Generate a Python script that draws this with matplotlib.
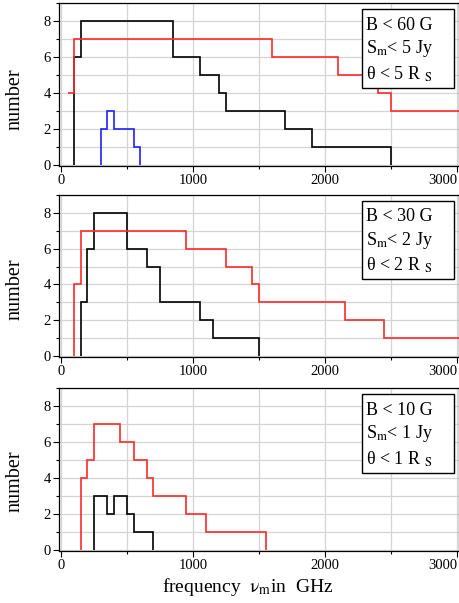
import numpy as np
import matplotlib
matplotlib.use("Agg")
import matplotlib.pyplot as plt
from matplotlib.patches import Rectangle
from matplotlib.ticker import MultipleLocator

plt.rcParams['font.family'] = ['Liberation Serif', 'DejaVu Serif']
plt.rcParams['mathtext.fontset'] = 'stix'

# histogram edges (GHz) and counts per bin
# pannello 1: B < 60 G
p1_black_edges = [100, 150, 850, 1050, 1200, 1250, 1700, 1900, 2500]
p1_black_counts = [6, 8, 6, 5, 4, 3, 2, 1]
p1_red_edges = [50, 100, 1600, 2100, 2400, 2500, 3100]
p1_red_counts = [4, 7, 6, 5, 4, 3]
p1_blue_edges = [300, 350, 400, 550, 600]
p1_blue_counts = [2, 3, 2, 1]

# pannello 2: B < 30 G
p2_black_edges = [150, 200, 250, 500, 650, 750, 1050, 1150, 1500]
p2_black_counts = [3, 6, 8, 6, 5, 3, 2, 1]
p2_red_edges = [100, 150, 950, 1250, 1450, 1500, 2150, 2450, 3100]
p2_red_counts = [4, 7, 6, 5, 4, 3, 2, 1]

# pannello 3: B < 10 G
p3_black_edges = [250, 350, 400, 500, 550, 700]
p3_black_counts = [3, 2, 3, 2, 1]
p3_red_edges = [150, 200, 250, 450, 550, 650, 700, 950, 1100, 1550]
p3_red_counts = [4, 5, 7, 6, 5, 4, 3, 2, 1]

x_ticks = [0, 1000, 2000, 3000]
box_texts = [
    ["B < 60 G", r"S$_\mathrm{m}$< 5 Jy", r"θ < 5 R $_\mathrm{S}$"],
    ["B < 30 G", r"S$_\mathrm{m}$< 2 Jy", r"θ < 2 R $_\mathrm{S}$"],
    ["B < 10 G", r"S$_\mathrm{m}$< 1 Jy", r"θ < 1 R $_\mathrm{S}$"],
]

RED = '#ff2a2a'
BLUE = '#2020ff'

W, H = 460, 603
fig = plt.figure(figsize=(W / 100, H / 100), dpi=100)

# (top, bottom) in pixels for each panel
panel_px = [(3, 166), (195, 357), (388, 551)]
label_y = [99, 289, 481]
axes = []
for top, bot in panel_px:
    ax = fig.add_axes([59 / W, (H - bot) / H, 400 / W, (bot - top) / H])
    axes.append(ax)

series = [
    [(p1_black_edges, p1_black_counts, 'black', 0),
     (p1_red_edges, p1_red_counts, RED, None),
     (p1_blue_edges, p1_blue_counts, BLUE, 0)],
    [(p2_black_edges, p2_black_counts, 'black', 0),
     (p2_red_edges, p2_red_counts, RED, 0)],
    [(p3_black_edges, p3_black_counts, 'black', 0),
     (p3_red_edges, p3_red_counts, RED, 0)],
]

for i, ax in enumerate(axes):
    ax.set_xlim(-15, 3015)
    ax.set_ylim(-0.06, 9)
    ax.set_xticks(x_ticks)
    ax.set_xticklabels([str(t) for t in x_ticks])
    ax.get_xticklabels()[-1].set_horizontalalignment('right')
    ax.xaxis.set_minor_locator(MultipleLocator(500))
    ax.yaxis.set_major_locator(MultipleLocator(2))
    ax.yaxis.set_minor_locator(MultipleLocator(1))
    ax.grid(which='both', color='#d4d4d4', linewidth=0.9)
    ax.set_axisbelow(True)
    ax.tick_params(which='major', direction='out', length=4, width=0.8, labelsize=10.5, pad=2)
    ax.tick_params(which='minor', direction='out', length=2.5, width=0.8)
    for s in ax.spines.values():
        s.set_linewidth(0.9)
    for edges, counts, col, base in series[i]:
        ax.stairs(counts, edges, baseline=base, color=col, linewidth=1.2)

    ax.add_patch(Rectangle((0.757, 0.479), 0.231, 0.484, transform=ax.transAxes,
                           facecolor='white', edgecolor='black', linewidth=1.0, zorder=5))
    for j, yy in enumerate([0.865, 0.718, 0.565]):
        ax.text(0.768, yy, box_texts[i][j], transform=ax.transAxes, fontsize=13,
                va='center', ha='left', zorder=6)

    fig.text(15 / W, 1 - label_y[i] / H, "number", rotation=90, fontsize=14.5,
             ha='center', va='center')

fig.text(248 / W, 1 - 587 / H, r"frequency  $\mathrm{\nu}_\mathrm{m}$in  GHz",
         fontsize=14, ha='center', va='center')

fig.savefig("out.png", dpi=100)
